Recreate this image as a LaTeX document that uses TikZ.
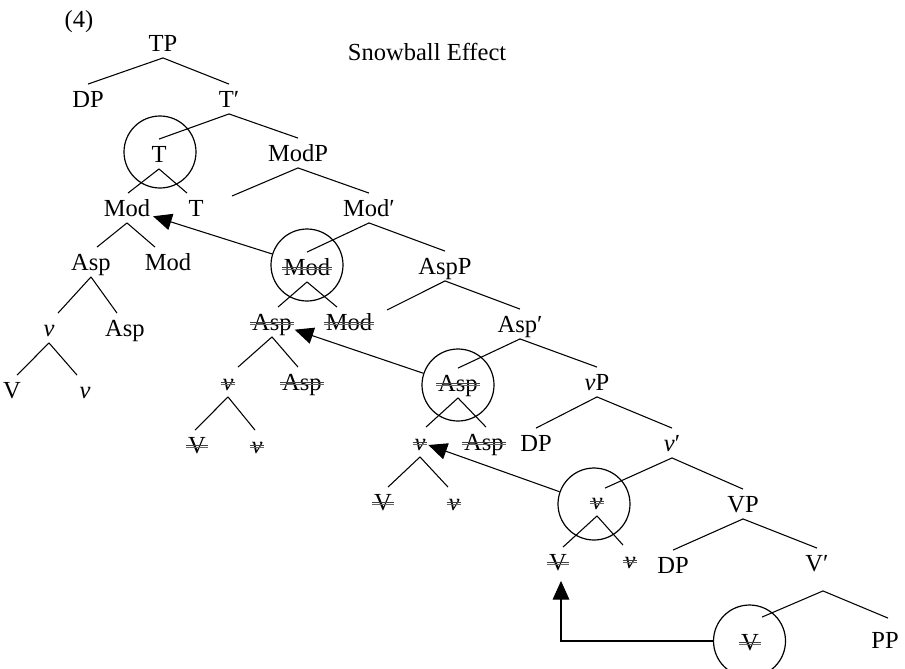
\documentclass[tikz,border=0pt]{standalone}
\usepackage{fontspec}
\setmainfont{Liberation Serif}
\usetikzlibrary{arrows.meta,calc}

% struck-through label: text with a double grey rule across it
\newsavebox\strikebox
\newcommand\struck[1]{%
  \sbox\strikebox{#1}%
  \makebox[0pt][l]{\usebox\strikebox}%
  \makebox[0pt][l]{\kern-0.08em\textcolor{black!60}{\rule[0.20em]{\dimexpr\wd\strikebox+0.16em\relax}{0.5pt}}}%
  \makebox[0pt][l]{\kern-0.08em\textcolor{black!75}{\rule[0.29em]{\dimexpr\wd\strikebox+0.16em\relax}{0.5pt}}}%
  \hphantom{\usebox\strikebox}}

\begin{document}
\begin{tikzpicture}[x=0.75pt,y=-0.75pt,
  lbl/.style={anchor=base,inner sep=2pt,text height=15pt,text depth=3pt,
              font=\fontsize{18.4}{22}\selectfont},
  branch/.style={line width=0.8pt},
  ring/.style={circle,draw,line width=0.9pt,minimum size=54,inner sep=0pt},
  move/.style={line width=0.8pt,-{Triangle[length=14pt,width=12.5pt]}}]
\useasboundingbox (0,0) rectangle (905,668);

% example number and title
\node[lbl] (num) at (79,27) {(4)};
\node[lbl,anchor=base west] (title) at (345,60) {Snowball Effect};

% main spine
\node[lbl] (TP)     at (163,51)  {TP};
\node[lbl] (DPa)    at (88,107)  {DP};
\node[lbl] (Tbar)   at (229,107) {T′};
\node[lbl] (Tc)     at (159,162) {T};
\node[lbl] (ModP)   at (298,161) {ModP};
\coordinate (specM) at (232,196);
\node[lbl] (Modbar) at (369,216) {Mod′};
\node[lbl] (Modc)   at (307,275) {\struck{Mod}};
\node[lbl] (AspP)   at (445,274) {AspP};
\coordinate (specA) at (387,310);
\node[lbl] (Aspbar) at (520,332) {Asp′};
\node[lbl] (Aspc)   at (458,391) {\struck{Asp}};
\node[lbl] (vP)     at (597,390) {\textit{v}P};
\node[lbl] (DPb)    at (536,451) {DP};
\node[lbl] (vbar)   at (672,451) {\textit{v}′};
\node[lbl] (vc)     at (597,509) {\struck{\textit{v}}};
\node[lbl] (VP)     at (743,512) {VP};
\node[lbl] (DPc)    at (673,573) {DP};
\node[lbl] (Vbar)   at (817,571) {V′};
\node[lbl] (Vc)     at (750,650) {\struck{V}};
\node[lbl] (PP)     at (885,648) {PP};

% complex head in T
\node[lbl] (ModA)  at (127,216) {Mod};
\node[lbl] (TA)    at (196,216) {T};
\node[lbl] (AspA)  at (91,270)  {Asp};
\node[lbl] (ModA2) at (168,270) {Mod};
\node[lbl] (vA)    at (49,336)  {\textit{v}};
\node[lbl] (AspA2) at (125,336) {Asp};
\node[lbl] (VA)    at (12,398)  {V};
\node[lbl] (vA2)   at (85,398)  {\textit{v}};

% copy under Mod
\node[lbl] (AspB)  at (272,330) {\struck{Asp}};
\node[lbl] (ModB)  at (349,330) {\struck{Mod}};
\node[lbl] (vB)    at (228,390) {\struck{\textit{v}}};
\node[lbl] (AspB2) at (302,390) {\struck{Asp}};
\node[lbl] (VB)    at (197,453) {\struck{V}};
\node[lbl] (vB2)   at (257,453) {\struck{\textit{v}}};

% copy under Asp
\node[lbl] (vC)    at (420,450) {\struck{\textit{v}}};
\node[lbl] (AspC)  at (484,450) {\struck{Asp}};
\node[lbl] (VC)    at (383,510) {\struck{V}};
\node[lbl] (vC2)   at (454,510) {\struck{\textit{v}}};

% copy under v
\node[lbl] (VD)    at (558,570) {\struck{V}};
\node[lbl] (vD)    at (630,568) {\struck{\textit{v}}};

% circled landing sites
\node[ring] (cT) at (160,152) {};
\node[ring] (cM) at (307,265) {};
\node[ring] (cA) at (458,385) {};
\node[ring] (cv) at (594,504) {};
\node[ring] (cV) at (749.5,641) {};

% phrase-level branches
\draw[branch] (TP.south) -- (DPa.north);
\draw[branch] (TP.south) -- (Tbar.north);
\draw[branch] (Tbar.south) -- (Tc.north);
\draw[branch] (Tbar.south) -- (ModP.north);
\draw[branch] (ModP.south) -- (specM);
\draw[branch] (ModP.south) -- (Modbar.north);
\draw[branch] (Modbar.south) -- (Modc.north);
\draw[branch] (Modbar.south) -- (AspP.north);
\draw[branch] (AspP.south) -- (specA);
\draw[branch] (AspP.south) -- (Aspbar.north);
\draw[branch] (Aspbar.south) -- (Aspc.north);
\draw[branch] (Aspbar.south) -- (vP.north);
\draw[branch] (vP.south) -- (DPb.north);
\draw[branch] (vP.south) -- (vbar.north);
\draw[branch] (vbar.south) -- ($(vc.north)+(8,2)$);
\draw[branch] (vbar.south) -- (VP.north);
\draw[branch] (VP.south) -- (DPc.north);
\draw[branch] (VP.south) -- (Vbar.north);
\draw[branch] ($(Vbar.south)+(6,13)$) -- ($(Vc.north)+(12,-10)$);
\draw[branch] ($(Vbar.south)+(6,13)$) -- ($(PP.north)+(3,-7)$);

% head-adjunction branches
\draw[branch] (Tc.south) -- ($(ModA.north)+(1,0)$);
\draw[branch] (Tc.south) -- ($(TA.north)+(-9,0)$);
\draw[branch] (ModA.south) -- ($(AspA.north)+(6,0)$);
\draw[branch] (ModA.south) -- ($(ModA2.north)+(-13,0)$);
\draw[branch] (AspA.south) -- ($(vA.north)+(9,0)$);
\draw[branch] (AspA.south) -- ($(AspA2.north)+(-8,0)$);
\draw[branch] (vA.south) -- ($(VA.north)+(5,0)$);
\draw[branch] (vA.south) -- ($(vA2.north)+(-8,0)$);

\draw[branch] (Modc.south) -- ($(AspB.north)+(6,0)$);
\draw[branch] (Modc.south) -- ($(ModB.north)+(-12,0)$);
\draw[branch] (AspB.south) -- ($(vB.north)+(10,0)$);
\draw[branch] (AspB.south) -- ($(AspB2.north)+(-4,0)$);
\draw[branch] (vB.south) -- ($(VB.north)+(-2,0)$);
\draw[branch] (vB.south) -- ($(vB2.north)+(-2,0)$);

\draw[branch] (Aspc.south) -- ($(vC.north)+(6,0)$);
\draw[branch] (Aspc.south) -- ($(AspC.north)+(2,0)$);
\draw[branch] (vC.south) -- ($(VC.north)+(5,0)$);
\draw[branch] (vC.south) -- ($(vC2.north)+(-6,0)$);

\draw[branch] (vc.south) -- ($(VD.north)+(5,0)$);
\draw[branch] (vc.south) -- ($(vD.north)+(-7,0)$);

% head movement
\draw[move] (cM) -- (ModA);
\draw[move] (cA) -- (AspB);
\draw[move] (cv) -- (vC);
\draw[move] (cV.west) -| ($(VD.south)+(3,4)$);
\end{tikzpicture}
\end{document}
